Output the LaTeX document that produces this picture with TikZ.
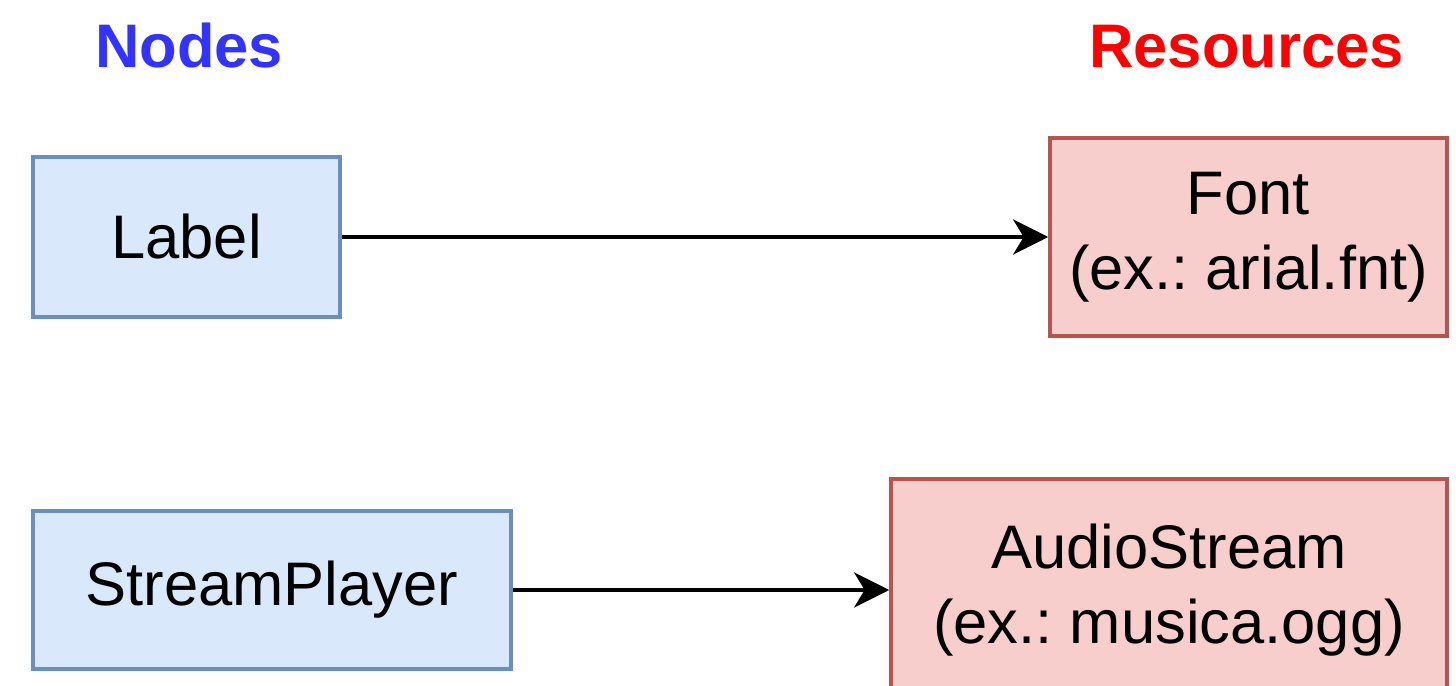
\documentclass[tikz,border=0pt]{standalone}
\usepackage{fontspec}
\setmainfont{Liberation Sans}
\usetikzlibrary{arrows.meta, positioning}

\definecolor{nodefill}{HTML}{DAE8FC}
\definecolor{nodedraw}{HTML}{6C8EBF}
\definecolor{resfill}{HTML}{F8CECC}
\definecolor{resdraw}{HTML}{B85450}
\definecolor{nodetitle}{HTML}{3333FF}
\definecolor{restitle}{HTML}{FF0000}
\frenchspacing

\begin{document}
\begin{tikzpicture}[
  nodebox/.style={rectangle, draw=nodedraw, fill=nodefill, line width=2pt, inner sep=0pt, align=center, font=\fontsize{35}{42.5}\selectfont},
  resbox/.style={rectangle, draw=resdraw, fill=resfill, line width=2pt, inner sep=0pt, align=center, font=\fontsize{35}{42.5}\selectfont},
  title/.style={anchor=base, font=\fontsize{35}{42}\selectfont\bfseries},
  arrow/.style={line width=2pt, -{Stealth[length=20pt, width=20pt, inset=6pt]}}]

\useasboundingbox (0,0) rectangle (29.12,-13.72);
\clip (0,0) rectangle (29.12,-13.72);

\node[title, text=nodetitle] (nodes) at (3.78,-1.36) {Nodes};
\node[title, text=restitle] (resources) at (24.93,-1.36) {Resources};

\node[nodebox, minimum width=6.14cm, minimum height=3.2cm] (label) at (3.73,-4.74) {Label};
\node[resbox, minimum width=7.94cm, minimum height=3.96cm] (font) at (24.97,-4.74) {Font \\ (ex.: arial.fnt)};
\node[nodebox, minimum width=9.56cm, minimum height=3.16cm] (player) at (5.44,-11.8) {StreamPlayer};
\node[resbox, minimum width=11.12cm, minimum height=4.44cm] (stream) at (23.38,-11.8) {AudioStream \\ (ex.: musica.ogg)};

\draw[arrow] (label) -- (font);
\draw[arrow] (player) -- (stream);

\end{tikzpicture}
\end{document}
